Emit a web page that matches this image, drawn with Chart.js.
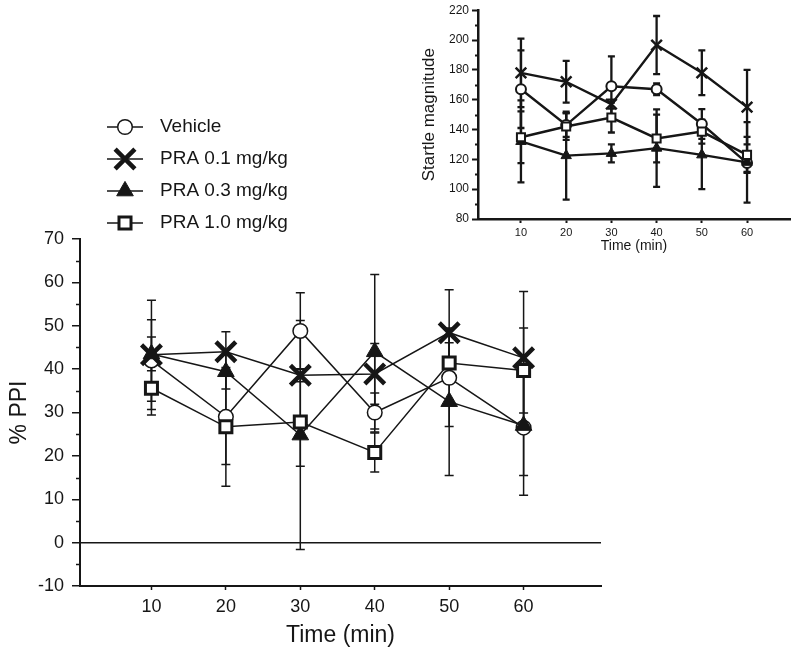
<!DOCTYPE html>
<html>
<head>
<meta charset="utf-8">
<script src="https://cdn.jsdelivr.net/npm/chart.js@4.4.0/dist/chart.umd.min.js"></script>
<style>
  body { margin: 0; background: #fff; }
  #wrap { position: relative; width: 800px; height: 654px; }
  #mainChart { position: absolute; left: 0; top: 0; }
  #insetChart { position: absolute; left: 400px; top: 0; }
</style>
</head>
<body>
<div id="wrap">
  <canvas id="mainChart" width="800" height="654"></canvas>
  <canvas id="insetChart" width="400" height="270"></canvas>
</div>
<script>
// time points (min)
const times = [10, 20, 30, 40, 50, 60];
const seriesNames = ['Vehicle', 'PRA 0.1 mg/kg', 'PRA 0.3 mg/kg', 'PRA 1.0 mg/kg'];

// main panel: % PPI, mean and error
const ppiVehicle = [42, 29, 48.8, 30, 38, 26.5];
const ppiVehicleErr = [9.4, 11, 8.8, 4.5, 11.2, 15.6];
const ppiPra01 = [43.3, 44, 38.6, 38.9, 48.4, 42.6];
const ppiPra01Err = [12.6, 4.6, 1.5, 7, 9.9, 15.3];
const ppiPra03 = [43.5, 39.4, 24.8, 44, 32.5, 27];
const ppiPra03Err = [3.9, 4, 26.4, 17.8, 17, 11.5];
const ppiPra10 = [35.6, 26.7, 27.8, 20.8, 41.4, 39.7];
const ppiPra10Err = [6.2, 13.7, 10.2, 4.5, 4.7, 9.8];

// inset: startle magnitude, mean and error
const startleVehicle = [167, 143, 169, 167, 143.7, 117.5];
const startleVehicleErr = [26, 8, 20, 4, 10, 6];
const startlePra01 = [178, 172, 157, 196.6, 178, 155];
const startlePra01Err = [23, 14, 3, 19.5, 15, 25];
const startlePra03 = [132, 122.5, 124, 127.5, 123, 118];
const startlePra03Err = [27.5, 29.5, 6, 26, 23, 27];
const startlePra10 = [134.8, 142, 148, 134, 138.6, 123];
const startlePra10Err = [17.3, 9, 10, 16, 8, 12];

const ink = '#161616';
const fontFam = '"Liberation Sans", Arial, sans-serif';

// marker look for each group: open circle, bold x, filled triangle, open square
const markers = [
  { pointStyle: 'circle', fill: '#fff' },
  { pointStyle: 'crossRot', fill: ink },
  { pointStyle: 'triangle', fill: ink },
  { pointStyle: 'rect', fill: '#fff' }
];

function buildSets(values, errors, sizes, lineWidth) {
  return values.map((vals, i) => ({
    label: seriesNames[i],
    data: times.map((t, j) => ({ x: t, y: vals[j] })),
    errors: errors[i],
    order: values.length - i, // vehicle drawn first, squares on top
    borderColor: ink,
    borderWidth: lineWidth,
    pointStyle: markers[i].pointStyle,
    pointBackgroundColor: markers[i].fill,
    pointBorderColor: ink,
    pointRadius: sizes[i].r,
    pointBorderWidth: sizes[i].w,
    tension: 0,
    clip: false
  }));
}

// vertical error bars with caps, drawn under the markers
const errorBars = {
  id: 'errorBars',
  beforeDatasetsDraw(chart, args, opts) {
    const { ctx, scales: { x, y } } = chart;
    ctx.save();
    ctx.strokeStyle = ink;
    ctx.lineWidth = opts.lineWidth;
    chart.data.datasets.forEach(ds => {
      ds.data.forEach((p, j) => {
        const e = ds.errors[j];
        const px = x.getPixelForValue(p.x);
        const top = y.getPixelForValue(p.y + e);
        const bot = y.getPixelForValue(p.y - e);
        ctx.beginPath();
        ctx.moveTo(px, top); ctx.lineTo(px, bot);
        ctx.moveTo(px - opts.cap, top); ctx.lineTo(px + opts.cap, top);
        ctx.moveTo(px - opts.cap, bot); ctx.lineTo(px + opts.cap, bot);
        ctx.stroke();
      });
    });
    ctx.restore();
  }
};

// small unlabeled ticks between the labeled ones on the y axis
const minorTicks = {
  id: 'minorTicks',
  afterDraw(chart, args, opts) {
    const { ctx } = chart;
    const y = chart.scales.y;
    ctx.save();
    ctx.strokeStyle = ink;
    ctx.lineWidth = opts.width;
    for (let v = y.min + opts.step; v < y.max; v += opts.step * 2) {
      const py = Math.round(y.getPixelForValue(v)) + 0.5;
      ctx.beginPath();
      ctx.moveTo(y.right, py);
      ctx.lineTo(y.right - opts.length, py);
      ctx.stroke();
    }
    ctx.restore();
  }
};

// legend at the upper left of the main panel
const sideLegend = {
  id: 'sideLegend',
  afterDraw(chart, args, opts) {
    const { ctx } = chart;
    chart.data.datasets.forEach((ds, i) => {
      const yy = opts.top + i * opts.gap;
      ctx.save();
      ctx.strokeStyle = ink;
      ctx.lineWidth = 1.5;
      ctx.beginPath();
      ctx.moveTo(opts.left, yy);
      ctx.lineTo(opts.left + opts.lineLen, yy);
      ctx.stroke();
      ctx.fillStyle = ds.pointBackgroundColor;
      ctx.lineWidth = ds.pointBorderWidth;
      Chart.helpers.drawPoint(ctx, {
        pointStyle: ds.pointStyle, radius: ds.pointRadius,
        borderWidth: ds.pointBorderWidth, rotation: 0
      }, opts.left + opts.lineLen / 2, yy);
      ctx.fillStyle = ink;
      ctx.font = opts.font;
      ctx.textBaseline = 'middle';
      ctx.fillText(ds.label, opts.textX, yy);
      ctx.restore();
    });
  }
};

// only the measured time points get a tick
const timeTicks = scale => {
  scale.ticks = times.map(v => ({ value: v }));
};

// main chart
new Chart(document.getElementById('mainChart'), {
  type: 'line',
  data: {
    datasets: buildSets(
      [ppiVehicle, ppiPra01, ppiPra03, ppiPra10],
      [ppiVehicleErr, ppiPra01Err, ppiPra03Err, ppiPra10Err],
      [{ r: 7.3, w: 1.5 }, { r: 14, w: 4.5 }, { r: 9.6, w: 1 }, { r: 8.5, w: 3 }],
      1.5
    )
  },
  options: {
    responsive: false,
    animation: false,
    events: [],
    layout: { padding: { top: 239, right: 199, left: 0, bottom: 0 } },
    plugins: {
      legend: { display: false },
      tooltip: { enabled: false },
      errorBars: { lineWidth: 1.5, cap: 4.5 },
      minorTicks: { step: 5, length: 4, width: 1.5 },
      sideLegend: { left: 107, lineLen: 36, textX: 160, top: 127, gap: 32, font: '19px ' + fontFam }
    },
    scales: {
      x: {
        type: 'linear',
        min: 0.4,
        max: 70.4,
        afterFit: s => { s.height = 68; },
        afterBuildTicks: timeTicks,
        ticks: { color: ink, padding: 6, font: { size: 18, family: fontFam } },
        grid: { drawOnChartArea: false, tickLength: 4, tickColor: ink, tickWidth: 1.5 },
        border: { display: true, color: ink, width: 2 },
        title: { display: true, text: 'Time (min)', color: ink, font: { size: 23, family: fontFam }, padding: { top: 4, bottom: 5 } }
      },
      y: {
        min: -10,
        max: 70,
        afterFit: s => { s.width = 80; },
        ticks: { stepSize: 10, color: ink, padding: 8, font: { size: 18, family: fontFam } },
        grid: {
          color: c => (c.tick && c.tick.value === 0 ? ink : 'rgba(0,0,0,0)'),
          lineWidth: 1.5,
          tickColor: ink,
          tickLength: 8,
          tickWidth: 1.5
        },
        border: { display: true, color: ink, width: 2 },
        title: { display: true, text: '% PPI', color: ink, font: { size: 23, family: fontFam }, padding: { top: 6, bottom: 4 } }
      }
    }
  },
  plugins: [errorBars, minorTicks, sideLegend]
});

// inset chart (startle magnitude)
new Chart(document.getElementById('insetChart'), {
  type: 'line',
  data: {
    datasets: buildSets(
      [startleVehicle, startlePra01, startlePra03, startlePra10],
      [startleVehicleErr, startlePra01Err, startlePra03Err, startlePra10Err],
      [{ r: 5, w: 2 }, { r: 7.5, w: 2.5 }, { r: 6, w: 1 }, { r: 5.7, w: 2 }],
      2.4
    )
  },
  options: {
    responsive: false,
    animation: false,
    events: [],
    layout: { padding: { top: 10, right: 10, left: 0, bottom: 0 } },
    plugins: {
      legend: { display: false },
      tooltip: { enabled: false },
      errorBars: { lineWidth: 2.3, cap: 3.5 },
      minorTicks: { step: 10, length: 3, width: 2 }
    },
    scales: {
      x: {
        type: 'linear',
        min: 0.5,
        max: 69.5,
        afterFit: s => { s.height = 51; },
        afterBuildTicks: timeTicks,
        ticks: { color: ink, padding: 3, font: { size: 11, family: fontFam } },
        grid: { drawOnChartArea: false, tickLength: 4, tickColor: ink, tickWidth: 2 },
        border: { display: true, color: ink, width: 2.5 },
        title: { display: true, text: 'Time (min)', color: ink, font: { size: 14, family: fontFam }, padding: { top: 2, bottom: 15 } }
      },
      y: {
        min: 80,
        max: 220,
        afterFit: s => { s.width = 78; },
        ticks: { stepSize: 20, color: ink, padding: 3, font: { size: 12, family: fontFam } },
        grid: { drawOnChartArea: false, tickColor: ink, tickLength: 6, tickWidth: 2 },
        border: { display: true, color: ink, width: 2.5 },
        title: { display: true, text: 'Startle magnitude', color: ink, font: { size: 17, family: fontFam }, padding: { top: 19, bottom: 2 } }
      }
    }
  },
  plugins: [errorBars, minorTicks]
});
</script>
</body>
</html>
